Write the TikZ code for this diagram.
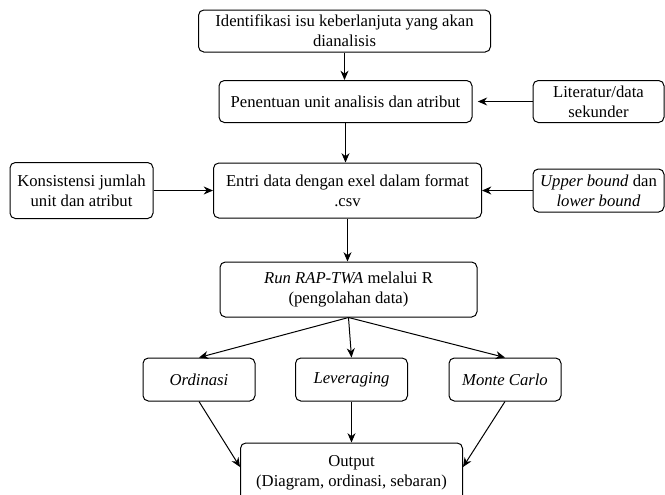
\documentclass[tikz,border=0pt]{standalone}
\usepackage{fontspec}
\setmainfont{Liberation Serif}
\usetikzlibrary{arrows.meta}
\begin{document}
\begin{tikzpicture}[x=0.75pt,y=-0.75pt,font=\fontsize{12.5}{15}\selectfont,
  box/.style={draw, rounded corners=4pt, align=center, inner sep=1pt, line width=0.75pt},
  arr/.style={-{Stealth[length=7pt,width=6pt]}, line width=0.75pt}]
\useasboundingbox (0,0) rectangle (665,494);

% main column
\node [box, minimum width=219pt, minimum height=31.5pt] (ident) at (344.5,31) {Identifikasi isu keberlanjuta yang akan\\dianalisis};
\node [box, minimum width=189.75pt, minimum height=31.5pt] (unit) at (345.5,101.5) {Penentuan unit analisis dan atribut};
\node [box, minimum width=201pt, minimum height=41.25pt] (entri) at (347.5,190.5) {Entri data dengan exel dalam format\\.csv};
\node [box, minimum width=192.75pt, minimum height=41.25pt] (run) at (348.5,289.5) {\textit{Run RAP-TWA} melalui R\\(pengolahan data)};

% side inputs
\node [box, minimum width=98.25pt, minimum height=31.5pt] (lit) at (598.5,101.5) {Literatur/data\\sekunder};
\node [box, minimum width=107.25pt, minimum height=42pt] (kons) at (81.5,190.5) {Konsistensi jumlah\\unit dan atribut};
\node [box, minimum width=98.25pt, minimum height=32.25pt] (bound) at (598.5,190.5) {\textit{Upper bound} dan\\\textit{lower bound}};

% analyses
\node [box, minimum width=84pt, minimum height=32.25pt] (ord) at (199,379.5) {\textit{Ordinasi}};
\node [box, minimum width=84pt, minimum height=32.25pt] (lev) at (351.5,379.5) {\textit{Leveraging}};
\node [box, minimum width=84pt, minimum height=32.25pt] (mc) at (505,379.5) {\textit{Monte Carlo}};
\node [box, minimum width=166.5pt, minimum height=45pt] (out) at (351.5,473) {Output\\(Diagram, ordinasi, sebaran)};

\draw [arr] (ident.south) -- (ident.south |- unit.north);
\draw [arr] (unit.south) -- (unit.south |- entri.north);
\draw [arr] (entri.south) -- (entri.south |- run.north);
\draw [arr] (lit.west) -- ([xshift=4pt]unit.east);
\draw [arr] (kons.east) -- (entri.west);
\draw [arr] (bound.west) -- (entri.east);

\draw [arr] (run.south) -- (ord.north);
\draw [arr] (run.south) -- (lev.north);
\draw [arr] (run.south) -- (mc.north);
\draw [arr] (lev.south) -- (lev.south |- out.north);
\draw [arr] (ord.south) -- ([yshift=4.5pt]out.west);
\draw [arr] (mc.south) -- ([yshift=4.5pt]out.east);

\end{tikzpicture}
\end{document}
